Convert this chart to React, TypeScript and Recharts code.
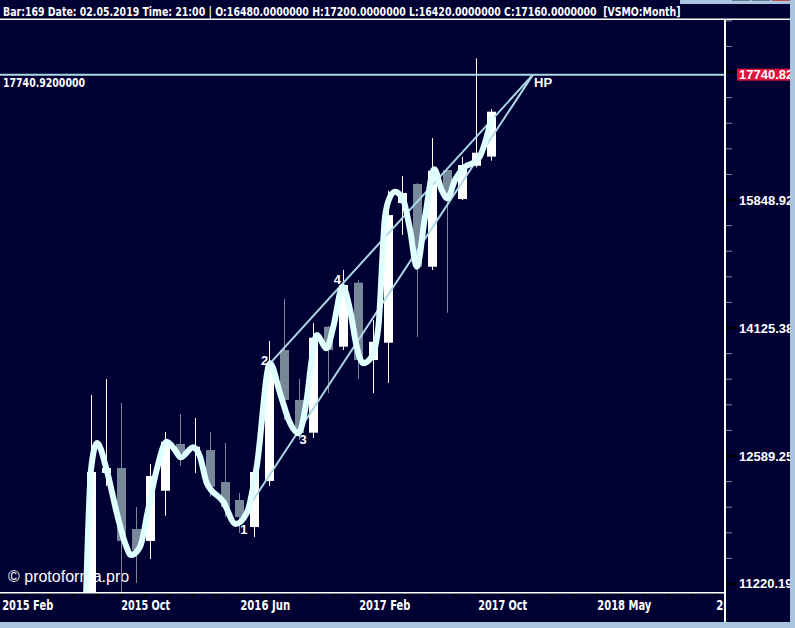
import React from 'react';
import { ComposedChart, Bar, Line, XAxis, YAxis, ReferenceLine, ReferenceDot } from 'recharts';

const W = 795;
const H = 628;
const NAVY = '#000033';
const FRAME = '#a9c4de';

// ---- candles (monthly bars) ----
const BAR_INDEX = [0, 1, 2, 3, 4, 5, 6, 7, 8, 9, 10, 11, 12, 13, 14, 15, 16, 17, 18, 19, 20, 21, 22, 23, 24, 25, 26, 27];
const OPEN = [10669, 12398, 12454, 11789, 11663, 12202, 12726, 12657, 12657, 12298, 12101, 11810, 12309, 13849, 13240, 12856, 14142, 13890, 14713, 13724, 13940, 15806, 16079, 14926, 16282, 15863, 16345, 16480];
const HIGH = [13299, 13492, 13204, 12025, 12499, 12864, 13074, 13027, 12864, 12737, 12177, 12480, 13961, 14499, 13492, 14189, 14150, 14882, 14748, 14227, 15982, 16195, 16094, 16758, 16282, 16478, 18003, 17200];
const LOW = [10550, 12254, 11080, 11230, 11475, 11931, 12480, 12398, 12137, 11917, 11747, 11705, 12254, 13004, 12772, 12795, 13323, 13849, 13492, 13323, 13444, 15358, 14012, 14882, 14321, 15849, 16322, 16420];
const CLOSE = [12409, 12454, 11663, 11568, 12365, 12752, 12623, 12695, 12246, 12025, 11917, 12409, 13642, 13240, 12852, 14003, 13849, 14682, 13724, 13952, 15637, 15949, 14926, 16272, 15896, 16356, 16538, 17160];

// ---- smoothed curve (position in bars, price) ----
const CURVE_POS = [-0.35, -0.01, 0.4, 1.05, 1.73, 2.29, 2.69, 3.3, 3.84, 4.42, 5.1, 5.66, 6.04, 6.89, 7.35, 7.8, 8.92, 9.75, 10.5, 11.17, 12.07, 12.74, 13.42, 13.98, 14.54, 14.88, 15.22, 15.89, 16.34, 16.97, 17.47, 17.92, 18.36, 18.93, 19.38, 19.83, 20.17, 20.5, 21.06, 21.52, 21.97, 22.53, 23.15, 23.65, 24.03, 24.55, 25.23, 25.9, 26.24, 26.69, 27.03];
const CURVE_PRICE = [11060, 12432, 12737, 12432, 11960, 11642, 11517, 11603, 11992, 12432, 12752, 12657, 12574, 12688, 12581, 12287, 12082, 11842, 11960, 12469, 13684, 13323, 12969, 12849, 13240, 13724, 14037, 13870, 14142, 14660, 14356, 13890, 13684, 13765, 14142, 15613, 15896, 15968, 15849, 15427, 14926, 15613, 16293, 15992, 15873, 16137, 16331, 16404, 16489, 16778, 17082];

// ---- levels / annotations ----
const HP_LEVEL = 17740.92;
const LAST_PRICE = 17740.82;
const HP_POS = 29.81;
const UPPER_START = { pos: 12.07, price: 13684 };
const LOWER_START = { pos: 9.91, price: 11853 };
const POINT_LABELS = ['1', '2', '3', '4', 'HP'];
const POINT_POS = [10.31, 11.7, 14.3, 16.62, 30.49];
const POINT_PRICE = [11789, 13724, 12783, 14762, 17624];

// ---- axes ----
const Y_DOMAIN: [number, number] = [11139.7, 18635];
const Y_MAJOR = [11220.19, 12589.25, 14125.38, 15848.92, 17782.79];
const Y_MAJOR_LABEL = ['11220.19', '12589.25', '14125.38', '15848.92', ''];
const Y_MINOR = [11481.54, 11748.98, 12022.64, 12302.69, 12882.5, 13182.57, 13489.63, 13803.84, 14454.4, 14791.08, 15135.61, 15488.17, 16218.1, 16595.87, 16982.44, 17378.01, 18197.01, 18620.87];
const X_DOMAIN: [number, number] = [-6.149, 42.7];
const X_LABEL_POS = [-6, 2.03, 10.06, 18.09, 26.12, 34.15, 42.18];
const X_LABELS = ['2015 Feb', '2015 Oct', '2016 Jun', '2017 Feb', '2017 Oct', '2018 May', '2019 Jan'];
const X_LABEL_WIDTH = [51, 49, 50, 51, 49, 54, 50];
const X_MINOR = [-4.39, -2.79, -1.18, 0.42, 3.64, 5.24, 6.85, 8.45, 11.67, 13.27, 14.88, 16.48, 19.7, 21.3, 22.91, 24.51, 27.73, 29.33, 30.94, 32.54, 35.76, 37.36, 38.97, 40.57];

const HEADER = 'Bar:169 Date: 02.05.2019 Time: 21:00 | O:16480.0000000 H:17200.0000000 L:16420.0000000 C:17160.0000000  [VSMO:Month]';
const WATERMARK = '\u00a9 protoforma.pro';

const candles = BAR_INDEX.map((i, k) => ({
  i,
  open: OPEN[k],
  high: HIGH[k],
  low: LOW[k],
  close: CLOSE[k],
  range: [LOW[k], HIGH[k]],
}));
const curve = CURVE_POS.map((i, k) => ({ i, v: CURVE_PRICE[k] }));

const FONT = '"Liberation Sans", Arial, sans-serif';
const NARROW = '"Liberation Sans Narrow", "Arial Narrow", "DejaVu Sans Condensed", sans-serif';

const CandleShape = (props: any) => {
  const { x, y, width, height, payload } = props;
  if (x == null || y == null || !payload) return null;
  const { open, close, high, low } = payload;
  const lh = Math.log(high);
  const ll = Math.log(low);
  const toY = (v: number) => y + (height * (lh - Math.log(v))) / (lh - ll);
  const up = close >= open;
  const color = up ? '#ffffff' : '#778899';
  const cx = Math.round(x + width / 2) + 0.5;
  const top = toY(Math.max(open, close));
  const bot = toY(Math.min(open, close));
  return (
    <g>
      <line x1={cx} x2={cx} y1={y} y2={y + height} stroke={color} strokeWidth={1} />
      <rect x={cx - 4.5} y={top} width={9} height={Math.max(1, bot - top)} fill={color} />
    </g>
  );
};

const YTick = (props: any) => {
  const { y, payload } = props;
  const v = payload.value;
  if (v === LAST_PRICE) {
    return (
      <g>
        <rect x={737} y={y - 6} width={58} height={12} fill="#dc143c" />
        <text x={739} y={y + 4.5} fill="#ffffff" fontSize={13} fontWeight="bold" fontFamily={FONT}>
          {LAST_PRICE.toFixed(2)}
        </text>
      </g>
    );
  }
  const mi = Y_MAJOR.indexOf(v);
  if (mi >= 0) {
    return (
      <g>
        <line x1={726} x2={737} y1={y} y2={y} stroke="#000000" strokeWidth={2} />
        {Y_MAJOR_LABEL[mi] ? (
          <text x={739} y={y + 4.5} fill="#ffffff" fontSize={13} fontWeight="bold" fontFamily={FONT}>
            {Y_MAJOR_LABEL[mi]}
          </text>
        ) : null}
      </g>
    );
  }
  return <line x1={726} x2={732} y1={y} y2={y} stroke="#8a8a99" strokeWidth={1} />;
};

const XTick = (props: any) => {
  const { x, payload } = props;
  const v = payload.value;
  const li = X_LABEL_POS.indexOf(v);
  return (
    <g>
      <line x1={x} x2={x} y1={593} y2={598} stroke="#000000" strokeWidth={2} />
      {li >= 0 ? (
        <text
          x={x}
          y={610}
          fill="#ffffff"
          fontSize={14}
          fontWeight="bold"
          fontFamily={NARROW}
          textLength={X_LABEL_WIDTH[li]}
          lengthAdjust="spacingAndGlyphs"
        >
          {X_LABELS[li]}
        </text>
      ) : null}
    </g>
  );
};

const PointLabel = (text: string) => (p: any) => {
  const vb = p.viewBox || {};
  const cx = (vb.x || 0) + (vb.width || 0) / 2;
  const cy = (vb.y || 0) + (vb.height || 0) / 2;
  return (
    <text x={cx} y={cy + 4.5} textAnchor="middle" fill="#ffffff" fontSize={13} fontWeight="bold" fontFamily={FONT}>
      {text}
    </text>
  );
};

export default function App() {
  const xTicks = [...X_LABEL_POS, ...X_MINOR].sort((a, b) => a - b);
  const yTicks = [...Y_MAJOR, ...Y_MINOR, LAST_PRICE];
  return (
    <div style={{ position: 'absolute', left: 0, top: 0, width: W, height: H, background: NAVY, overflow: 'hidden' }}>
      <svg width={W} height={H} style={{ position: 'absolute', left: 0, top: 0 }}>
        <g transform="translate(3,16) scale(0.804,1)">
          <text x={0} y={0} fill="#ffffff" fontSize={13} fontWeight="bold" fontFamily={NARROW} style={{ whiteSpace: 'pre' }}>
            {HEADER}
          </text>
        </g>
        <text x={8} y={582} fill="#ffffff" fontSize={16} fontFamily={FONT}>
          {WATERMARK}
        </text>
      </svg>
      <div style={{ position: 'absolute', left: 0, top: 0 }}>
        <ComposedChart width={W} height={H} data={candles} margin={{ top: 20, right: 0, bottom: 0, left: 0 }}>
          <XAxis
            dataKey="i"
            type="number"
            domain={X_DOMAIN}
            allowDataOverflow
            ticks={xTicks}
            interval={0}
            height={36}
            axisLine={false}
            tickLine={false}
            tick={(p: any) => <XTick {...p} />}
          />
          <YAxis
            type="number"
            scale="log"
            orientation="right"
            domain={Y_DOMAIN}
            allowDataOverflow
            ticks={yTicks}
            interval={0}
            width={71}
            axisLine={false}
            tickLine={false}
            tick={(p: any) => <YTick {...p} />}
          />
          <ReferenceLine
            y={HP_LEVEL}
            stroke="#add8e6"
            strokeWidth={2}
            label={(p: any) => (
              <text x={(p.viewBox?.x || 0) + 3} y={(p.viewBox?.y || 0) + 12} fill="#ffffff" fontSize={12} fontWeight="bold" fontFamily={NARROW} textLength={82} lengthAdjust="spacingAndGlyphs">
                {HP_LEVEL.toFixed(7)}
              </text>
            )}
          />
          <Bar dataKey="range" barSize={9} isAnimationActive={false} shape={(p: any) => <CandleShape {...p} />} />
          <ReferenceLine
            segment={[
              { x: UPPER_START.pos, y: UPPER_START.price },
              { x: HP_POS, y: HP_LEVEL },
            ]}
            stroke="#add8e6"
            strokeWidth={2}
          />
          <ReferenceLine
            segment={[
              { x: LOWER_START.pos, y: LOWER_START.price },
              { x: HP_POS, y: HP_LEVEL },
            ]}
            stroke="#add8e6"
            strokeWidth={2}
          />
          <Line
            data={curve}
            dataKey="v"
            type="monotone"
            stroke="#e0ffff"
            strokeWidth={6}
            dot={false}
            activeDot={false}
            isAnimationActive={false}
          />
          {POINT_LABELS.map((t, k) => (
            <ReferenceDot key={t} x={POINT_POS[k]} y={POINT_PRICE[k]} r={1} fill="none" stroke="none" label={PointLabel(t)} />
          ))}
        </ComposedChart>
      </div>
      <svg width={W} height={H} style={{ position: 'absolute', left: 0, top: 0, pointerEvents: 'none' }}>
        <rect x={726} y={593} width={64} height={29} fill={NAVY} />
        <rect x={0} y={18.5} width={790} height={1.5} fill="#ffffff" />
        <rect x={724} y={19} width={2} height={603} fill="#ffffff" />
        <rect x={0} y={592} width={724} height={1.5} fill="#ffffff" />
        <rect x={680} y={0} width={115} height={4} fill={FRAME} />
        <rect x={732} y={0} width={18} height={1} fill="#6a7890" />
        <rect x={752} y={0} width={18} height={1} fill="#6a7890" />
        <rect x={772} y={0} width={18} height={1} fill="#c0504d" />
        <rect x={790} y={0} width={5} height={H} fill={FRAME} />
        <rect x={0} y={622} width={W} height={6} fill={FRAME} />
      </svg>
    </div>
  );
}
